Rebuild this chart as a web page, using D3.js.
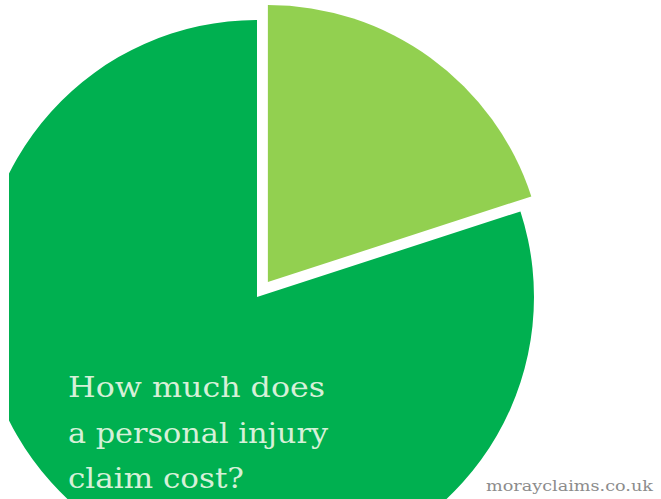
<!DOCTYPE html>
<html>
<head>
<meta charset="utf-8">
<script src="https://cdn.jsdelivr.net/npm/d3@7"></script>
<style>
  html, body { margin: 0; padding: 0; background: #ffffff; }
  svg { display: block; }
</style>
</head>
<body>
<script>
// Data
const categories = ["Claim cost share", "Remainder"];
const values = [20, 80];
const colors = ["#92D050", "#00B050"];
const titleLines = ["How much does", "a personal injury", "claim cost?"];
const sourceLabel = "morayclaims.co.uk";

const W = 661, H = 499;
const cx = 257, cy = 297, R = 277;
const explode = 18.5;

const svg = d3.select("body").append("svg")
  .attr("width", W).attr("height", H);

svg.append("defs").append("clipPath").attr("id", "clip")
  .append("rect").attr("x", 9).attr("y", 0).attr("width", W - 9).attr("height", H);

const pie = d3.pie().sort(null).value(d => d).startAngle(0).endAngle(2 * Math.PI);
const arcs = pie(values);
const arc = d3.arc().innerRadius(0).outerRadius(R);

const g = svg.append("g").attr("clip-path", "url(#clip)");

g.selectAll("path").data(arcs).enter().append("path")
  .attr("d", arc)
  .attr("fill", (d, i) => colors[i])
  .attr("transform", (d, i) => {
    const mid = (d.startAngle + d.endAngle) / 2;
    const off = i === 0 ? explode : 0;
    const dx = Math.sin(mid) * off, dy = -Math.cos(mid) * off;
    return `translate(${cx + dx},${cy + dy})`;
  });

const title = svg.append("g")
  .attr("font-family", "'DejaVu Serif', serif")
  .attr("font-size", 27)
  .attr("fill", "#d6f0d8");
const titleWidths = [257, 260, 176];
titleLines.forEach((t, i) => {
  title.append("text")
    .attr("x", 68).attr("y", 397 + i * 45.5)
    .attr("textLength", titleWidths[i])
    .attr("lengthAdjust", "spacingAndGlyphs")
    .text(t);
});

svg.append("text")
  .attr("x", 486).attr("y", 491)
  .attr("font-family", "'DejaVu Serif', serif")
  .attr("font-size", 14)
  .attr("fill", "#8c8c8c")
  .attr("textLength", 167)
  .attr("lengthAdjust", "spacingAndGlyphs")
  .text(sourceLabel);
</script>
</body>
</html>
